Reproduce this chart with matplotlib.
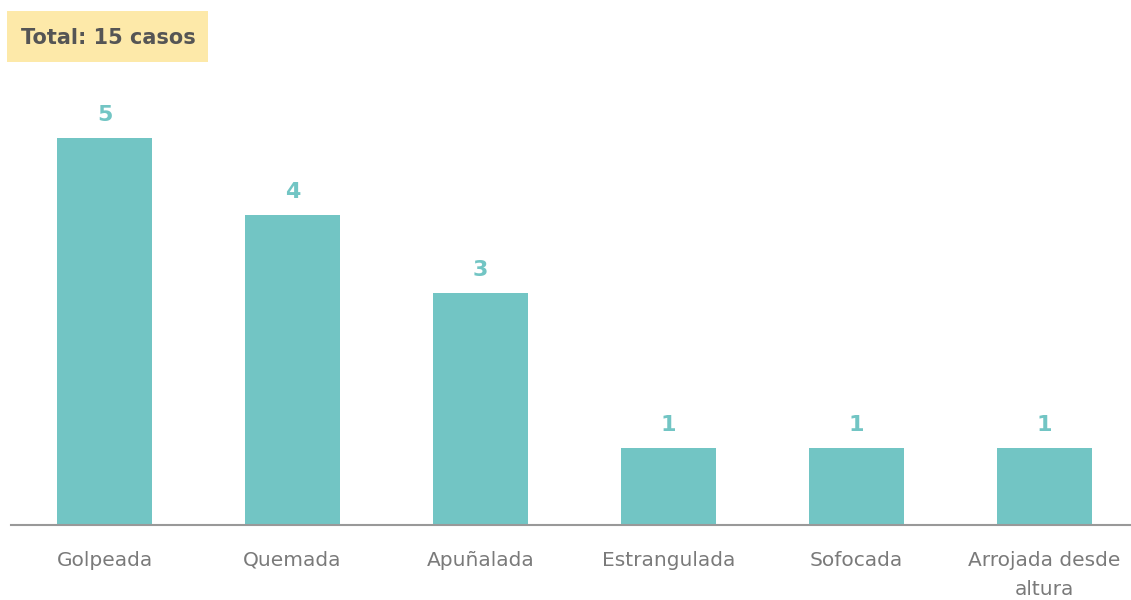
import matplotlib
matplotlib.use("Agg")
import matplotlib.pyplot as plt
from matplotlib.patches import Rectangle

categories = ["Golpeada", "Quemada", "Apuñalada", "Estrangulada", "Sofocada", "Arrojada desde\naltura"]
values = [5, 4, 3, 1, 1, 1]
title_text = "Total: 15 casos"

bar_color = "#72C5C4"
label_color = "#7a7a7a"

fig = plt.figure(figsize=(11.31, 6), dpi=100)
ax = fig.add_axes([10.5 / 1131, 75 / 600, 1128 / 1131, (525 - 75) / 600])

x = list(range(len(categories)))
ax.bar(x, values, width=0.505, color=bar_color, zorder=2)
ax.set_xlim(-0.5, 5.5)
ax.set_ylim(0, 450 / 77.4)

for xi, v in zip(x, values):
    ax.annotate(str(v), (xi, v), xytext=(0, 16.5), textcoords="offset points",
                ha="center", va="center", color=bar_color, fontsize=16,
                fontweight="bold", family="DejaVu Sans")

ax.set_xticks(x)
ax.set_xticklabels(categories, fontsize=14.5, color=label_color, family="DejaVu Sans",
                   linespacing=1.72)
ax.tick_params(axis="x", length=0, pad=18.5)
ax.set_yticks([])
for s in ["top", "right", "left"]:
    ax.spines[s].set_visible(False)
ax.spines["bottom"].set_color("#999999")
ax.spines["bottom"].set_linewidth(1.5)

fig.patches.append(Rectangle((7 / 1131, 1 - 62 / 600), 201 / 1131, 51 / 600,
                             transform=fig.transFigure, facecolor="#FDE9A9",
                             edgecolor="none", zorder=0))
fig.text(108 / 1131, 1 - 38 / 600, title_text, ha="center", va="center",
         fontsize=15, fontweight="bold", color="#555555", family="DejaVu Sans")

fig.savefig("out.png", dpi=100)
